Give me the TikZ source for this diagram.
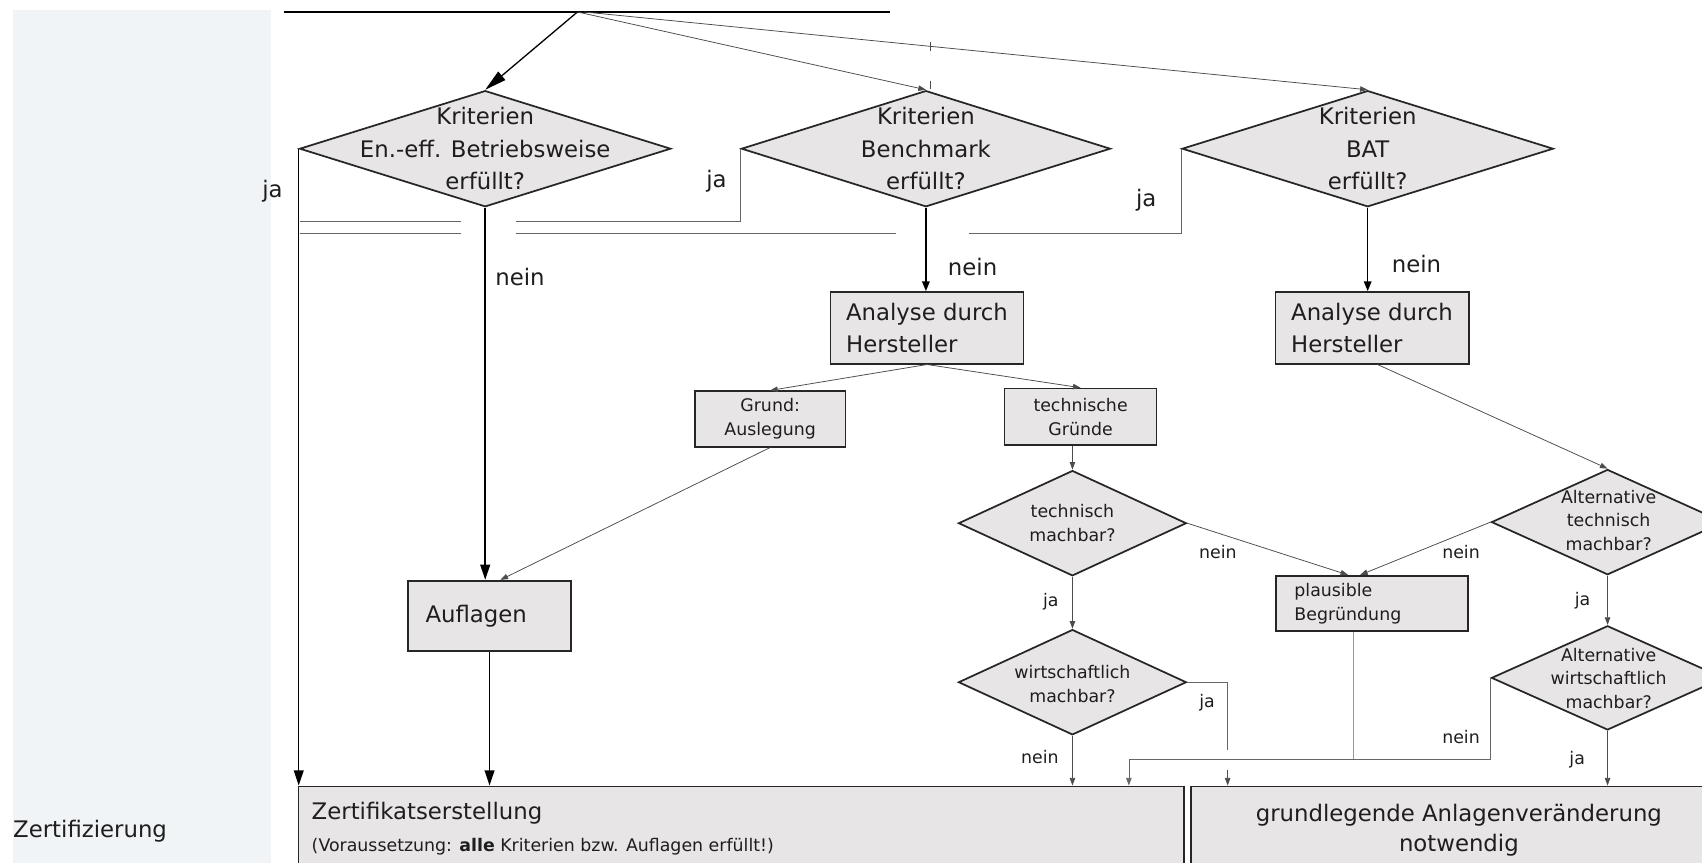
\documentclass[tikz,border=0pt]{standalone}
\usepackage{fontspec}
\setmainfont{DejaVu Sans}
\usetikzlibrary{shapes.geometric,arrows.meta}
\definecolor{boxgray}{HTML}{E8E5E7}
\definecolor{panelc}{HTML}{F1F4F6}
\definecolor{txt}{HTML}{1E1E1E}
\begin{document}
\begin{tikzpicture}[x=1pt,y=-1pt,
  box/.style={draw=black!85, line width=1.6pt, fill=boxgray, inner sep=0pt, text=txt},
  dia/.style={diamond, draw=black!85, line width=1.6pt, fill=boxgray, inner sep=0pt},
  big/.style={font=\fontsize{21}{30}\selectfont, text=txt},
  bigbox/.style={font=\fontsize{21}{29}\selectfont, text=txt},
  small/.style={font=\fontsize{16}{22}\selectfont, text=txt},
  lbl/.style={inner sep=0pt},
  bigarr/.style={line width=1.4pt, -{Triangle[length=14pt,width=9pt]}},
  midarr/.style={line width=1.2pt, -{Triangle[length=9pt,width=7pt]}},
  thinarr/.style={line width=0.7pt, draw=black!70, -{Triangle[length=7pt,width=5pt]}},
  conn/.style={line width=1pt, draw=black!60},
  lightconn/.style={line width=0.9pt, draw=black!40}
]
\useasboundingbox (0,0) rectangle (1568,795);
\clip (0,0) rectangle (1568,795);
\fill[white] (0,0) rectangle (1568,795);
\fill[panelc] (12,9) rectangle (250,800);
\node[lbl, big, anchor=west] (zertlbl) at (12,766) {Zertifizierung};

% ---------------- nodes ----------------
\node[dia, minimum width=342pt, minimum height=107pt] (d1) at (447,137) {};
\node[big, align=center] (d1t) at (d1) {Kriterien\\En.-eff. Betriebsweise\\erfüllt?};
\node[dia, minimum width=340pt, minimum height=107pt] (d2) at (853,137) {};
\node[big, align=center] (d2t) at (d2) {Kriterien\\Benchmark\\erfüllt?};
\node[dia, minimum width=342pt, minimum height=107pt] (d3) at (1260,137) {};
\node[big, align=center] (d3t) at (d3) {Kriterien\\BAT\\erfüllt?};

\node[box, bigbox, minimum width=178pt, minimum height=66pt, align=left] (an1) at (854,302) {Analyse durch\\Hersteller};
\node[box, bigbox, minimum width=178pt, minimum height=66pt, align=left] (an2) at (1264,302) {Analyse durch\\Hersteller};

\node[box, small, minimum width=139pt, minimum height=51pt, align=center] (grund) at (709.5,386) {Grund:\\Auslegung};
\node[box, small, minimum width=140pt, minimum height=52pt, align=center] (tg) at (995.5,384) {technische\\Gründe};

\node[box, bigbox, minimum width=150pt, minimum height=65pt, text width=118pt, inner xsep=16pt, align=left] (aufl) at (451,567.5) {Auflagen};

\node[dia, minimum width=210pt, minimum height=97pt] (tm) at (988,482) {};
\node[small, align=center] (tmt) at (988,482) {technisch\\machbar?};
\node[dia, minimum width=210pt, minimum height=97pt] (wm) at (988,628.5) {};
\node[small, align=center] (wmt) at (988,630) {wirtschaftlich\\machbar?};

\node[box, small, minimum width=177pt, minimum height=51pt, text width=143pt, inner xsep=17pt, align=left] (plaus) at (1264,556) {plausible\\Begründung};

\node[dia, minimum width=214pt, minimum height=97pt] (at) at (1481,481) {};
\node[small, align=center] (att) at (1482,479.5) {Alternative\\technisch\\machbar?};
\node[dia, minimum width=214pt, minimum height=96pt] (aw) at (1481,624.5) {};
\node[small, align=center] (awt) at (1482,625) {Alternative\\wirtschaftlich\\machbar?};

\node[box, minimum width=816pt, minimum height=85pt] (zert) at (683,767) {};
\node[lbl, big, anchor=west] (zt1) at (287,749) {Zertifikatserstellung};
\node[lbl, small, anchor=west] (zt2) at (287,780) {(Voraussetzung: \textbf{alle} Kriterien bzw. Auflagen erfüllt!)};

\node[box, minimum width=495pt, minimum height=85pt] (gr) at (1344.5,767) {};
\node[font=\fontsize{21}{28}\selectfont, text=txt, align=center, inner sep=0pt] (grt) at (1344,765) {grundlegende Anlagenveränderung\\notwendig};

% ---------------- coordinates ----------------
\coordinate (tl) at (262,11);
\coordinate (tr) at (820,11);
\coordinate (br) at (532,11);
\coordinate (br2) at (538,11);
\coordinate (hA) at (276,204);
\coordinate (gA1) at (425,204);
\coordinate (gA2) at (475,204);
\coordinate (hB) at (276,215);
\coordinate (gB1) at (425,215);
\coordinate (gB2) at (475,215);
\coordinate (gB3) at (825,215);
\coordinate (gB4) at (893,215);
\coordinate (wj1) at (1131,691);
\coordinate (wj2) at (1131,709);
\coordinate (pm) at (1247,700);
\coordinate (pz) at (1040,700);
\coordinate (tk1) at (857,39);
\coordinate (tk2) at (857,47);
\coordinate (tk3) at (857,75);
\coordinate (tk4) at (857,82);

% ---------------- connectors ----------------
\draw[line width=1.8pt] (tl) -- (tr);
\draw[line width=1.2pt, -{Triangle[length=20pt,width=10pt]}] (br) -- (d1.north);
\draw[thinarr] (br) -- (d2.north);
\draw[thinarr] (br2) -- (d3.north);
\draw[line width=0.6pt, black!70] (tk1) -- (tk2);
\draw[line width=0.6pt, black!70] (tk3) -- (tk4);

\draw[bigarr] (d1.west) -- (d1.west |- zert.north);
\draw[conn] (d2.west) |- (gA2);
\draw[conn] (gA1) -- (hA);
\draw[conn] (d3.west) |- (gB4);
\draw[conn] (gB3) -- (gB2);
\draw[conn] (gB1) -- (hB);

\draw[bigarr] (d1.south) -- (d1.south |- aufl.north);
\draw[midarr] (d2.south) -- (d2.south |- an1.north);
\draw[midarr] (d3.south) -- (d3.south |- an2.north);

\draw[thinarr] (an1.south) -- (grund.north);
\draw[thinarr] (an1.south) -- (tg.north);
\draw[thinarr] (grund.south) -- ([xshift=10pt]aufl.north);
\draw[bigarr] (aufl.south) -- (aufl.south |- zert.north);

\draw[thinarr] (tm.north |- tg.south) -- (tm.north);
\draw[thinarr] (tm.east) -- ([xshift=-22pt]plaus.north);
\draw[thinarr] (tm.south) -- (wm.north);
\draw[thinarr] (wm.south) -- (wm.south |- zert.north);
\draw[conn] (wm.east) -| (wj1);
\draw[thinarr] (wj2) -- (wj2 |- gr.north);

\draw[lightconn] ([xshift=-17pt]plaus.south) -- (pm);
\draw[thinarr, draw=black!60] (pm) -- (pz) -- (pz |- zert.north);

\draw[thinarr] ([xshift=5pt]an2.south) -- (at.north);
\draw[thinarr] (at.west) -- ([xshift=-11pt]plaus.north);
\draw[thinarr] (at.south) -- (aw.north);
\draw[conn] (aw.west) |- (pm);
\draw[thinarr] (aw.south) -- (aw.south |- gr.north);

% ---------------- labels ----------------
\node[lbl, big] (l1) at (251,176) {ja};
\node[lbl, big] (l2) at (479,255) {nein};
\node[lbl, big] (l3) at (660,167) {ja};
\node[lbl, big] (l4) at (896,246) {nein};
\node[lbl, big] (l5) at (1056,184) {ja};
\node[lbl, big] (l6) at (1305,243) {nein};
\node[lbl, small] (l7) at (1122,509) {nein};
\node[lbl, small] (l8) at (1346,509) {nein};
\node[lbl, small] (l9) at (968,554) {ja};
\node[lbl, small] (l10) at (1458,553) {ja};
\node[lbl, small] (l11) at (1112,647) {ja};
\node[lbl, small] (l12) at (958,697) {nein};
\node[lbl, small] (l13) at (1346,679) {nein};
\node[lbl, small] (l14) at (1453,700) {ja};
\end{tikzpicture}
\end{document}
